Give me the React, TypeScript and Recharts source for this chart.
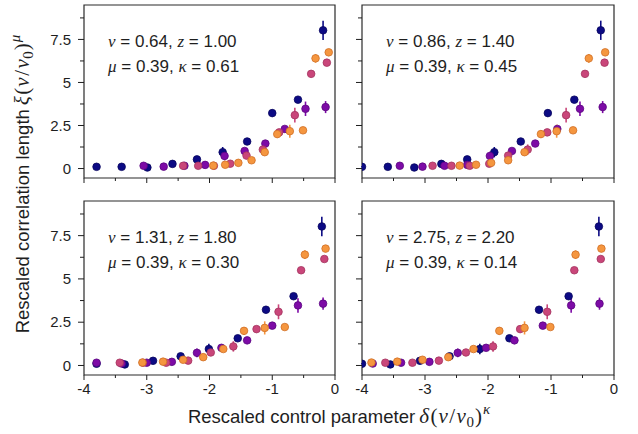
import React from 'react';
import { ScatterChart, Scatter, XAxis, YAxis, ErrorBar, ReferenceArea } from 'recharts';

// rescaled correlation length, one list per curve (identical in every panel, mu is fixed)
const navyY = [0.1, 0.1, 0.06, 0.27, 0.53, 0.95, 1.57, 3.22, 4.0, 8.03];
const purpleY = [0.16, 0.11, 0.16, 0.21, 0.73, 1.02, 1.45, 2.3, 3.47, 3.57];
const pinkY = [0.16, 0.16, 0.16, 0.28, 0.75, 1.1, 2.1, 3.1, 5.5, 6.15];
const orangeY = [0.17, 0.22, 0.33, 0.48, 0.95, 2.0, 2.17, 2.22, 6.4, 6.75];

// error bars (half-length)
const navyErr = [0.04, 0.04, 0.04, 0.06, 0.12, 0.3, 0.1, 0.2, 0.1, 0.56];
const purpleErr = [0.04, 0.04, 0.04, 0.06, 0.25, 0.1, 0.12, 0.12, 0.42, 0.35];
const pinkErr = [0.04, 0.04, 0.04, 0.06, 0.15, 0.3, 0.15, 0.43, 0.1, 0.1];
const orangeErr = [0.04, 0.04, 0.04, 0.1, 0.12, 0.22, 0.38, 0.08, 0.25, 0.08];

// rescaled control parameter for each parameter set (null = off the axis)
const navyXA = [-3.8, -3.4, -2.99, -2.59, -2.2, -1.79, -1.4, -1.0, -0.59, -0.19];
const purpleXA = [-3.05, -2.73, -2.4, -2.07, -1.76, -1.44, -1.11, -0.8, -0.47, -0.15];
const pinkXA = [-2.42, -2.18, -1.93, -1.67, -1.41, -1.15, -0.89, -0.64, -0.38, -0.13];
const orangeXA = [-1.94, -1.75, -1.54, -1.33, -1.12, -0.92, -0.72, -0.51, -0.31, -0.1];

const navyXB = [-4.0, -3.59, -3.17, -2.74, -2.33, -1.9, -1.48, -1.05, -0.63, -0.21];
const purpleXB = [-3.4, -3.04, -2.69, -2.33, -1.97, -1.62, -1.25, -0.9, -0.54, -0.18];
const pinkXB = [-2.88, -2.58, -2.29, -1.98, -1.68, -1.37, -1.06, -0.76, -0.46, -0.15];
const orangeXB = [-2.45, -2.19, -1.95, -1.68, -1.42, -1.16, -0.91, -0.65, -0.4, -0.14];

const navyXC = [null, -3.8, -3.35, -2.9, -2.46, -2.01, -1.55, -1.1, -0.66, -0.21];
const purpleXC = [-3.8, -3.4, -3.0, -2.6, -2.2, -1.81, -1.4, -1.0, -0.59, -0.19];
const pinkXC = [-3.43, -3.06, -2.69, -2.34, -1.98, -1.62, -1.25, -0.9, -0.54, -0.17];
const orangeXC = [-3.07, -2.74, -2.42, -2.1, -1.78, -1.45, -1.12, -0.8, -0.48, -0.15];

const navyXD = [null, -4.0, -3.55, -3.08, -2.61, -2.13, -1.66, -1.19, -0.72, -0.24];
const purpleXD = [null, -3.83, -3.38, -2.93, -2.48, -2.03, -1.58, -1.13, -0.68, -0.23];
const pinkXD = [null, -3.63, -3.2, -2.78, -2.35, -1.92, -1.49, -1.06, -0.63, -0.21];
const orangeXD = [-3.85, -3.44, -3.04, -2.63, -2.23, -1.82, -1.42, -1.01, -0.61, -0.2];

const nuLabels = ['0.64', '0.86', '1.31', '2.75'];
const zLabels = ['1.00', '1.40', '1.80', '2.20'];
const muLabels = ['0.39', '0.39', '0.39', '0.39'];
const kappaLabels = ['0.61', '0.45', '0.30', '0.14'];

const xTicks = [-4, -3.5, -3, -2.5, -2, -1.5, -1, -0.5, 0];
const yTicks = [0, 1.25, 2.5, 3.75, 5, 6.25, 7.5, 8.75];
const X_DOMAIN: [number, number] = [-4, 0];
const Y_DOMAIN: [number, number] = [-0.55, 9.5];

const SANS = '"Liberation Sans", Arial, Helvetica, sans-serif';
const MATH = '"Liberation Serif", "DejaVu Serif", serif';
const INK = '#1e1e1e';

const curves = [
  { name: 'navy', ys: navyY, errs: navyErr, fill: '#0c0a84', edge: '#07055e' },
  { name: 'purple', ys: purpleY, errs: purpleErr, fill: '#7d0ba6', edge: '#5a0680' },
  { name: 'pink', ys: pinkY, errs: pinkErr, fill: '#c9467a', edge: '#a3345e' },
  { name: 'orange', ys: orangeY, errs: orangeErr, fill: '#f5963f', edge: '#cf6f26' },
];

const panelXs = [
  [navyXA, purpleXA, pinkXA, orangeXA],
  [navyXB, purpleXB, pinkXB, orangeXB],
  [navyXC, purpleXC, pinkXC, orangeXC],
  [navyXD, purpleXD, pinkXD, orangeXD],
];

// plot-area boxes in page pixels
const layout = [
  { left: 84, top: 5, w: 251, h: 173, xLabels: false, yLabels: true },
  { left: 362, top: 5, w: 252, h: 173, xLabels: false, yLabels: false },
  { left: 84, top: 201, w: 251, h: 174, xLabels: true, yLabels: true },
  { left: 362, top: 201, w: 252, h: 174, xLabels: true, yLabels: false },
];

const rows = (xs: (number | null)[], ys: number[], errs: number[]) =>
  xs
    .map((x, i) => (x === null ? null : { x, y: ys[i], e: errs[i] }))
    .filter((r) => r !== null) as { x: number; y: number; e: number }[];

const dot = (fill: string, edge: string) => (p: any) =>
  p.cx == null ? <g /> : <circle cx={p.cx} cy={p.cy} r={3.8} fill={fill} stroke={edge} strokeWidth={0.8} />;

const yTick = (labels: boolean) => (p: any) => {
  const v = p.payload.value;
  const major = v % 2.5 === 0;
  return (
    <g>
      <line x1={p.x - (major ? 6 : 4)} x2={p.x} y1={p.y} y2={p.y} stroke={INK} strokeWidth={1} />
      {labels && major ? (
        <text x={p.x - 13} y={p.y + 5.3} textAnchor="end" fontSize={15} fontFamily={SANS} fill={INK}>
          {v}
        </text>
      ) : null}
    </g>
  );
};

const xTick = (labels: boolean) => (p: any) => {
  const v = p.payload.value;
  const major = Number.isInteger(v);
  return (
    <g>
      <line x1={p.x} x2={p.x} y1={p.y} y2={p.y + (major ? 5 : 3)} stroke={INK} strokeWidth={1} />
      {labels && major ? (
        <text x={p.x} y={p.y + 18.5} textAnchor="middle" fontSize={15} fontFamily={SANS} fill={INK}>
          {String(v)}
        </text>
      ) : null}
    </g>
  );
};

function Panel({ idx }: { idx: number }) {
  const box = layout[idx];
  const xs = panelXs[idx];
  return (
    <div style={{ position: 'absolute', left: box.left - 60, top: box.top - 10 }}>
      <ScatterChart
        width={box.w + 70}
        height={box.h + 40}
        margin={{ top: 10, right: 10, bottom: 0, left: 0 }}
      >
        <XAxis
          type="number"
          dataKey="x"
          domain={X_DOMAIN}
          ticks={xTicks}
          interval={0}
          allowDataOverflow
          axisLine={false}
          tickLine={false}
          tickSize={0}
          tickMargin={0}
          height={30}
          tick={xTick(box.xLabels)}
        />
        <YAxis
          type="number"
          dataKey="y"
          domain={Y_DOMAIN}
          ticks={yTicks}
          interval={0}
          allowDataOverflow
          axisLine={false}
          tickLine={false}
          tickSize={0}
          tickMargin={0}
          width={60}
          tick={yTick(box.yLabels)}
        />
        <ReferenceArea
          x1={X_DOMAIN[0]}
          x2={X_DOMAIN[1]}
          y1={Y_DOMAIN[0]}
          y2={Y_DOMAIN[1]}
          fill="none"
          stroke="#2a2a2a"
          strokeWidth={1.2}
        />
        {curves.map((c, k) => (
          <Scatter
            key={c.name}
            name={c.name}
            data={rows(xs[k], c.ys, c.errs)}
            fill={c.fill}
            shape={dot(c.fill, c.edge)}
            isAnimationActive={false}
          >
            <ErrorBar dataKey="e" direction="y" width={0} stroke={c.fill} strokeWidth={1.6} />
          </Scatter>
        ))}
      </ScatterChart>
    </div>
  );
}

const it = { fontFamily: MATH, fontStyle: 'italic' as const };
const up = { fontFamily: MATH };

// ξ(v/v0)^μ and δ(v/v0)^κ written in a larger math face
function MathTail({ lead, power }: { lead: string; power: string }) {
  return (
    <>
      <tspan {...it} fontSize={21} dx={4}>{lead}</tspan>
      <tspan {...up} fontSize={21} dx={1.5}>(</tspan>
      <tspan {...it} fontSize={21} dx={1}>v</tspan>
      <tspan {...up} fontSize={21} dx={1.5}>/</tspan>
      <tspan {...it} fontSize={21} dx={1.5}>v</tspan>
      <tspan {...up} fontSize={15} dx={0.5} dy={4}>0</tspan>
      <tspan {...up} fontSize={21} dx={1} dy={-4}>)</tspan>
      <tspan {...it} fontSize={15} dx={1} dy={-9}>{power}</tspan>
    </>
  );
}

export default function App() {
  return (
    <div style={{ position: 'absolute', left: 0, top: 0, width: 638, height: 434, background: '#fff' }}>
      {layout.map((_, i) => (
        <Panel key={i} idx={i} />
      ))}
      <svg
        width={638}
        height={434}
        style={{ position: 'absolute', left: 0, top: 0, pointerEvents: 'none' }}
      >
        {layout.map((box, i) => (
          <g key={i} fontFamily={SANS} fontSize={17} fill={INK}>
            <text x={box.left + 24} y={box.top + 42}>
              <tspan {...it}>ν</tspan>
              <tspan>{` = ${nuLabels[i]}, `}</tspan>
              <tspan {...it}>z</tspan>
              <tspan>{` = ${zLabels[i]}`}</tspan>
            </text>
            <text x={box.left + 24} y={box.top + 67}>
              <tspan {...it}>μ</tspan>
              <tspan>{` = ${muLabels[i]}, `}</tspan>
              <tspan {...it}>κ</tspan>
              <tspan>{` = ${kappaLabels[i]}`}</tspan>
            </text>
          </g>
        ))}
        <text
          transform="translate(29,184) rotate(-90)"
          textAnchor="middle"
          fontFamily={SANS}
          fontSize={18.5}
          fill={INK}
        >
          <tspan>Rescaled correlation length</tspan>
          <MathTail lead="ξ" power="μ" />
        </text>
        <text x={339} y={423} textAnchor="middle" fontFamily={SANS} fontSize={18.5} fill={INK}>
          <tspan>Rescaled control parameter</tspan>
          <MathTail lead="δ" power="κ" />
        </text>
      </svg>
    </div>
  );
}
